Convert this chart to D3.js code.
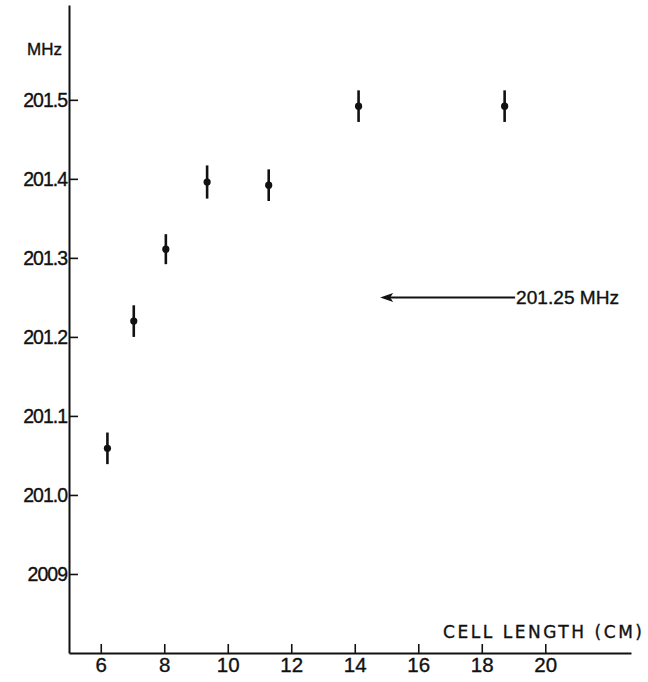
<!DOCTYPE html>
<html>
<head>
<meta charset="utf-8">
<script src="https://cdn.jsdelivr.net/npm/d3@7/dist/d3.min.js"></script>
<style>
  html, body { margin: 0; padding: 0; background: #fff; }
  svg { display: block; }
  text { font-family: "Liberation Sans", Arial, sans-serif; fill: #111; stroke: #111; stroke-width: 0.35px; }
</style>
</head>
<body>
<svg id="chart" width="648" height="682"></svg>
<script>
// Resonance frequency against cell length
const cellLength = [6.21, 7.04, 8.05, 9.35, 11.29, 14.12, 18.72];
const frequency  = [201.059, 201.22, 201.311, 201.396, 201.392, 201.492, 201.492];
const errorHalf  = [0.02, 0.02, 0.019, 0.021, 0.02, 0.02, 0.02];

const xTicks = [6, 8, 10, 12, 14, 16, 18, 20];
const yTicks = [200.9, 201.0, 201.1, 201.2, 201.3, 201.4, 201.5];
const yTickLabels = ["2009", "201.0", "201.1", "201.2", "201.3", "201.4", "201.5"];

// Reference marker: arrow pointing at 201.25 MHz
const markerValue = 201.25;
const markerFrom = 19.05;
const markerTo = 14.8;
const markerLabel = "201.25 MHz";

const svg = d3.select("#chart");

const x = d3.scaleLinear().domain([5, 22.7]).range([69, 631]);
const y = d3.scaleLinear().domain([200.8, 201.62]).range([653, 5]);

// y axis, ticks pointing inward
const yAxis = svg.append("g")
  .attr("transform", `translate(${x(5)},0)`)
  .call(d3.axisLeft(y)
    .tickValues(yTicks)
    .tickFormat((d, i) => yTickLabels[i])
    .tickSizeInner(-9)
    .tickSizeOuter(0)
    .tickPadding(2));

// x axis, ticks pointing upward
const xAxis = svg.append("g")
  .attr("transform", `translate(0,${y(200.8)})`)
  .call(d3.axisBottom(x)
    .tickValues(xTicks)
    .tickFormat(d3.format("d"))
    .tickSizeInner(-9)
    .tickSizeOuter(0)
    .tickPadding(4));

[yAxis, xAxis].forEach(g => {
  g.select(".domain").attr("stroke", "#111").attr("stroke-width", 2);
  g.selectAll(".tick line").attr("stroke", "#111").attr("stroke-width", 1.6);
  g.selectAll(".tick text")
    .attr("fill", "#111")
    .style("font-family", "'Liberation Sans', Arial, sans-serif");
});
yAxis.selectAll(".tick text").style("font-size", "19.5px").attr("letter-spacing", "-1");
xAxis.selectAll(".tick text").style("font-size", "20.5px");

// Unit label above the y axis
svg.append("text")
  .attr("x", 27).attr("y", 55)
  .style("font-size", "17px")
  .text("MHz");

// x axis title
svg.append("text")
  .attr("x", 443).attr("y", 638)
  .attr("textLength", 199)
  .attr("lengthAdjust", "spacing")
  .style("font-family", "'DejaVu Sans', sans-serif")
  .style("font-size", "17px")
  .text("CELL LENGTH (CM)");

// Error bars
svg.append("g").selectAll("line")
  .data(cellLength)
  .join("line")
  .attr("x1", d => x(d)).attr("x2", d => x(d))
  .attr("y1", (d, i) => y(frequency[i] - errorHalf[i]))
  .attr("y2", (d, i) => y(frequency[i] + errorHalf[i]))
  .attr("stroke", "#111")
  .attr("stroke-width", 2.6);

// Data points
svg.append("g").selectAll("circle")
  .data(cellLength)
  .join("circle")
  .attr("cx", d => x(d))
  .attr("cy", (d, i) => y(frequency[i]))
  .attr("r", 3.6)
  .attr("fill", "#111");

// Arrow marker
const my = y(markerValue);
svg.append("line")
  .attr("x1", x(markerFrom)).attr("x2", x(markerTo) + 8)
  .attr("y1", my).attr("y2", my)
  .attr("stroke", "#111").attr("stroke-width", 2);
svg.append("path")
  .attr("d", `M${x(markerTo)},${my} L${x(markerTo) + 13},${my - 4.5} L${x(markerTo) + 10},${my} L${x(markerTo) + 13},${my + 4.5} Z`)
  .attr("fill", "#111");
svg.append("text")
  .attr("x", x(markerFrom) + 1).attr("y", my + 6.5)
  .attr("textLength", 103)
  .attr("lengthAdjust", "spacingAndGlyphs")
  .style("font-size", "18.5px")
  .text(markerLabel);
</script>
</body>
</html>
